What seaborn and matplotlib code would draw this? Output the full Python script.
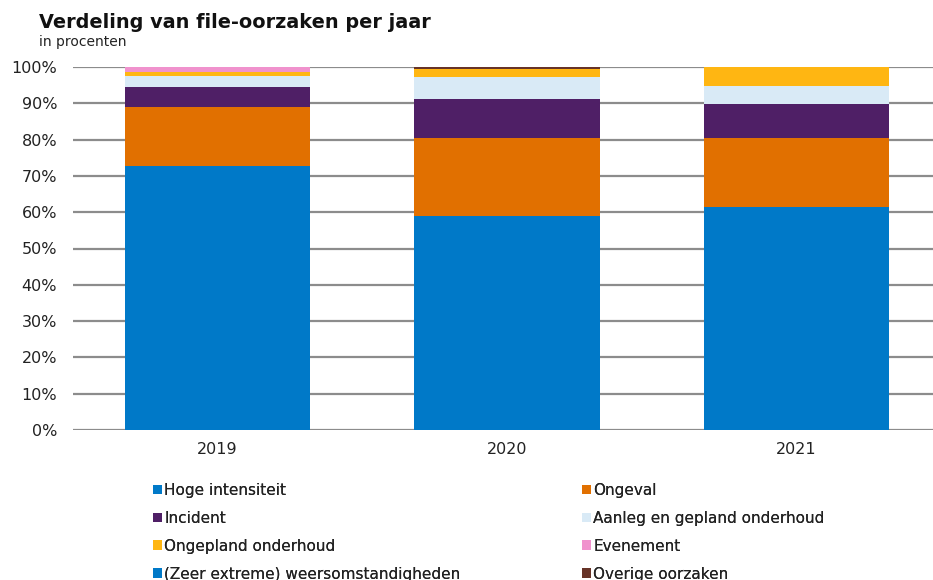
import matplotlib
matplotlib.use("Agg")
import matplotlib.pyplot as plt
import seaborn as sns
import numpy as np
import pandas as pd
from matplotlib.patches import Patch

years = ["2019", "2020", "2021"]
categories = [
    "Hoge intensiteit",
    "Ongeval",
    "Incident",
    "Aanleg en gepland onderhoud",
    "Ongepland onderhoud",
    "Evenement",
    "(Zeer extreme) weersomstandigheden",
    "Overige oorzaken",
]
hoge = [72.7, 59.0, 61.4]
ongeval = [16.4, 21.4, 19.0]
incident = [5.5, 10.7, 9.5]
aanleg = [2.9, 6.1, 5.0]
ongepland = [1.0, 2.2, 5.0]
evenement = [1.4, 0.0, 0.0]
weer = [0.0, 0.0, 0.0]
overige = [0.1, 0.6, 0.1]
series = [hoge, ongeval, incident, aanleg, ongepland, evenement, weer, overige]
colors = ["#0079C8", "#E17000", "#4F1F66", "#D9EAF6", "#FFB612",
          "#F092CD", "#0079C8", "#673327"]
yticks = list(range(0, 101, 10))

sns.set_theme(style="white")
plt.rcParams["font.family"] = ["DejaVu Sans"]

fig = plt.figure(figsize=(9.33, 5.80), dpi=100)
ax = fig.add_axes([73 / 933, 1 - 430 / 580, (941 - 73) / 933, (430 - 67) / 580])

cum = np.cumsum(np.array(series), axis=0)
for i in range(len(series) - 1, -1, -1):
    df = pd.DataFrame({"jaar": years, "waarde": cum[i]})
    sns.barplot(data=df, x="jaar", y="waarde", color=colors[i], width=0.64,
                saturation=1, ax=ax, edgecolor="none", linewidth=0)

for p in ax.patches:
    p.set_zorder(3)

ax.grid(False)
for v in yticks:
    ax.axhline(v, color="#8c8c8c", linewidth=1.6, zorder=0.5)

ax.set_ylim(0, 100)
ax.set_xlim(-0.5, 2.5)
ax.set_yticks(yticks)
ax.set_yticklabels([f"{v}%" for v in yticks])
for s in ax.spines.values():
    s.set_visible(False)
ax.tick_params(axis="y", length=0, pad=11.5, labelsize=11.5, labelcolor="#222222")
ax.tick_params(axis="x", length=0, pad=9, labelsize=11.5, labelcolor="#222222")
ax.set_xlabel("")
ax.set_ylabel("")

fig.text(39 / 933, 1 - 22 / 580, "Verdeling van file-oorzaken per jaar",
         fontsize=13.85, fontweight="bold", va="center", ha="left", color="#111111")
fig.text(39 / 933, 1 - 42 / 580, "in procenten", fontsize=10,
         va="center", ha="left", color="#222222")

handles = [Patch(facecolor=c, edgecolor="none") for c in colors]
left_idx = [0, 2, 4, 6]
right_idx = [1, 3, 5, 7]
for idx, x0 in ((left_idx, 153 / 933), (right_idx, 582 / 933)):
    leg = fig.legend([handles[i] for i in idx], [categories[i] for i in idx],
                     loc="upper left", bbox_to_anchor=(x0, 1 - 483 / 580),
                     frameon=False, fontsize=11, handlelength=0.6,
                     handleheight=0.6, handletextpad=0.15, labelspacing=0.84,
                     borderaxespad=0, borderpad=0)
    for t in leg.get_texts():
        t.set_color("#222222")
    fig.add_artist(leg)

fig.savefig("out.png", dpi=100)
